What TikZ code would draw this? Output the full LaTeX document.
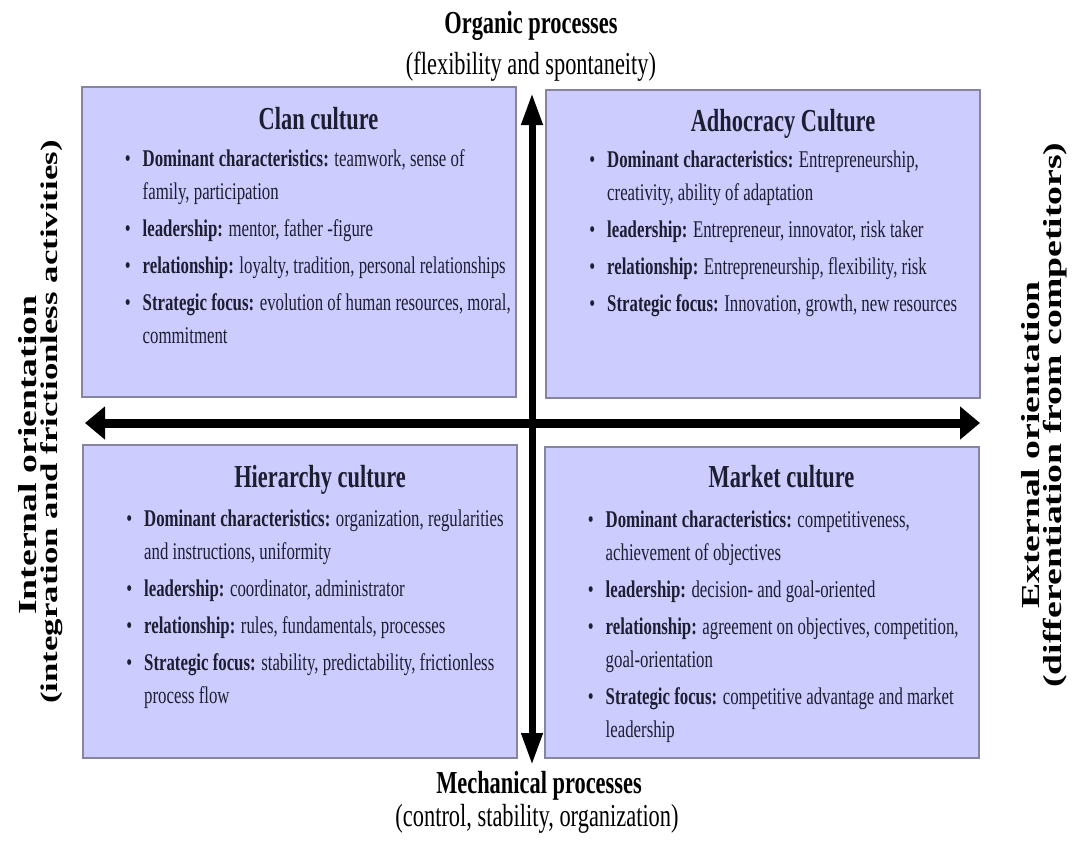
\documentclass[tikz,border=0pt]{standalone}
\usepackage{fontspec}
\setmainfont{Liberation Serif}[FakeStretch=0.7]
\newfontfamily\sidefont{Liberation Serif}[FakeStretch=1.45]
\usepackage{enumitem}
\usepackage{xcolor}
\usepackage{tikz}
\usetikzlibrary{arrows.meta,positioning}
\definecolor{quadfill}{HTML}{CCCCFF}
\definecolor{quadline}{HTML}{8585A0}
\definecolor{ink}{HTML}{1E1E32}
\setlist[itemize]{label=\textbullet, leftmargin=17pt, labelsep=12pt, itemsep=4pt, topsep=0pt, parsep=0pt, partopsep=0pt}
\tikzset{
  quad/.style={draw=quadline, line width=2pt, fill=quadfill, minimum width=434pt, inner sep=0pt},
  head/.style={text=ink, font=\fontsize{32}{36}\selectfont\bfseries, anchor=base, inner sep=0pt},
  body/.style={text=ink, font=\fontsize{24}{33}\selectfont, anchor=base west, inner sep=0pt},
  axislab/.style={text=black, font=\fontsize{32}{40}\selectfont, anchor=base, inner sep=0pt},
  sidelab/.style={text=black, font=\sidefont\fontsize{26}{26}\selectfont\bfseries, rotate=90, inner sep=0pt},
  haxis/.style={line width=9pt, {Triangle[length=20pt,width=32pt]}-{Triangle[length=20pt,width=32pt]}},
  vaxis/.style={line width=7pt, {Triangle[length=32pt,width=20pt]}-{Triangle[length=32pt,width=20pt]}},
}

\begin{document}
\begin{tikzpicture}[x=1pt,y=-1pt]
  \useasboundingbox (0,0) rectangle (1073,847);

  % the four quadrants
  \node[quad, minimum height=310pt] (clan) at (298.5,242) {};
  \node[quad, minimum height=308pt] (adho) at (763,244) {};
  \node[quad, minimum height=313pt] (hier) at (300,601.5) {};
  \node[quad, minimum height=311pt] (mark) at (761.5,602.5) {};

  \node[head] (clanT) at ([xshift=20pt,yshift=-43pt]clan.north) {Clan culture};
  \node[head] (adhoT) at ([xshift=20pt,yshift=-42pt]adho.north) {Adhocracy Culture};
  \node[head] (hierT) at ([xshift=20pt,yshift=-43pt]hier.north) {Hierarchy culture};
  \node[head] (markT) at ([xshift=20pt,yshift=-41pt]mark.north) {Market culture};

  \node[body] (clanL) at ([xshift=45pt,yshift=-80pt]clan.north west) {\begin{minipage}[t]{420pt}
    \begin{itemize}
      \item \textbf{Dominant characteristics:} teamwork, sense of\\family, participation
      \item \textbf{leadership:} mentor, father -figure
      \item \textbf{relationship:} loyalty, tradition, personal relationships
      \item \textbf{Strategic focus:} evolution of human resources, moral,\\commitment
    \end{itemize}\end{minipage}};
  \node[body] (adhoL) at ([xshift=45pt,yshift=-78pt]adho.north west) {\begin{minipage}[t]{420pt}
    \begin{itemize}
      \item \textbf{Dominant characteristics:} Entrepreneurship,\\creativity, ability of adaptation
      \item \textbf{leadership:} Entrepreneur, innovator, risk taker
      \item \textbf{relationship:} Entrepreneurship, flexibility, risk
      \item \textbf{Strategic focus:} Innovation, growth, new resources
    \end{itemize}\end{minipage}};
  \node[body] (hierL) at ([xshift=45pt,yshift=-82pt]hier.north west) {\begin{minipage}[t]{420pt}
    \begin{itemize}
      \item \textbf{Dominant characteristics:} organization, regularities\\and instructions, uniformity
      \item \textbf{leadership:} coordinator, administrator
      \item \textbf{relationship:} rules, fundamentals, processes
      \item \textbf{Strategic focus:} stability, predictability, frictionless\\process flow
    \end{itemize}\end{minipage}};
  \node[body] (markL) at ([xshift=45pt,yshift=-81pt]mark.north west) {\begin{minipage}[t]{420pt}
    \begin{itemize}
      \item \textbf{Dominant characteristics:} competitiveness,\\achievement of objectives
      \item \textbf{leadership:} decision- and goal-oriented
      \item \textbf{relationship:} agreement on objectives, competition,\\goal-orientation
      \item \textbf{Strategic focus:} competitive advantage and market\\leadership
    \end{itemize}\end{minipage}};

  % axes
  \coordinate (west) at (85,423);
  \coordinate (east) at (980,423);
  \coordinate (north) at (532,93);
  \coordinate (south) at (532,765);
  \draw[haxis] (west) -- (east);
  \draw[vaxis] (north) -- (south);

  \node[axislab, font=\fontsize{32}{40}\selectfont\bfseries] (organic) at (531,33) {Organic processes};
  \node[axislab] (organicS) at (531,74) {(flexibility and spontaneity)};
  \node[axislab, font=\fontsize{32}{40}\selectfont\bfseries] (mech) at (539,793) {Mechanical processes};
  \node[axislab] (mechS) at (537,826) {(control, stability, organization)};

  \node[sidelab] (internal) at (28,455) {Internal orientation};
  \node[sidelab, font=\sidefont\fontsize{24}{24}\selectfont\bfseries] (internalS) at (52,422) {(integration and frictionless activities)};
  \node[sidelab] (external) at (1031,445) {External orientation};
  \node[sidelab] (externalS) at (1055,415) {(differentiation from competitors)};
\end{tikzpicture}
\end{document}
